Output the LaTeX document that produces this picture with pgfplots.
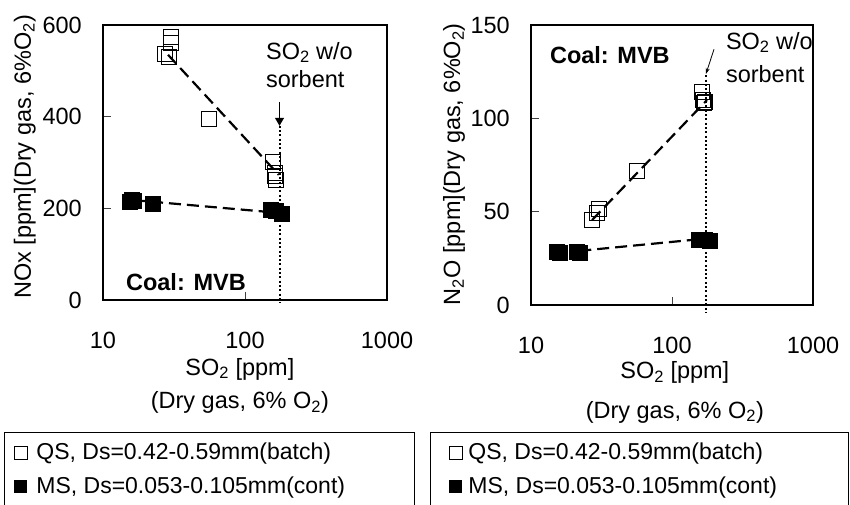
\documentclass[border=0pt]{standalone}
\usepackage{fontspec}
\setmainfont{Liberation Sans}
\usepackage{pgfplots}
\pgfplotsset{compat=1.18}
\usetikzlibrary{arrows.meta}
\newcommand\F{\fontsize{23.5}{28}\selectfont}
\newcommand\LF{\fontsize{23}{27}\selectfont}
\begin{document}
\F
\begin{tikzpicture}
\useasboundingbox (0,0) rectangle (850pt,505pt);
% ---------------- left: NOx
\begin{axis}[
  scale only axis, anchor=south west,
  at={(103pt,205pt)}, width=284pt, height=275pt,
  xmode=log, xmin=10, xmax=1000,
  xtick={10,100,1000}, xticklabels={10,100,1000}, xminorticks=false,
  tick align=inside, xtick pos=left, ytick pos=left,
  major tick length=8pt,
  major tick style={line width=0.8pt, black!75},
  axis line style={line width=1.8pt},
  tick label style={font=\F, inner sep=0pt},
  xticklabel style={anchor=north, yshift=-31.5pt},
  yticklabel style={anchor=east, xshift=-21pt},
  /pgf/number format/assume math mode=true,
  clip=false,
  ymin=0, ymax=600, ytick={0,200,400,600},
  ylabel={NOx [ppm](Dry gas, 6\%O\textsubscript{2})},
  ylabel style={font=\F, anchor=center, at={(axis description cs:-0.275,0.52)}},
  legend cell align=left,
  legend style={at={(axis description cs:-0.3486,-0.48)}, anchor=north west,
    draw=black, line width=0.8pt, font=\LF,
    inner xsep=9.5pt, inner ysep=8pt, row sep=10pt, column sep=7.5pt},
]
\addplot[black, line width=2pt, dash pattern=on 2pt off 2.3pt, forget plot] coordinates {(175,380) (175,-5)};
\addplot[black, line width=2.2pt, dash pattern=on 12pt off 6pt, forget plot] coordinates {(28.7,535) (173,273)};
\addplot[black, line width=2.2pt, dash pattern=on 12pt off 6pt, forget plot] coordinates {(16.3,218) (175,190)};
\addplot[only marks, mark=square, mark size=7.5pt, mark options={line width=0.8pt, black}, forget plot] coordinates {(29.9,573) (29.9,562) (27.1,536) (29.2,531) (56,396) (157.5,301) (161.4,278) (165,262) (163,270)};
\addplot[only marks, mark=square*, mark size=7.5pt, mark options={black, fill=black}, forget plot] coordinates {(15.3,215) (16,219) (16.5,216) (22.3,210) (151,197) (165,194) (181,188)};
\draw[black, line width=1pt, -{Triangle[width=9pt,length=8pt]}] (axis cs:175,432) -- (axis cs:175,380);
\node[font=\F, anchor=base west] at (axis description cs:0.546,0.876) {SO\textsubscript{2} w/o};
\node[font=\F, anchor=base west] at (axis description cs:0.546,0.771) {sorbent};
\node[font=\bfseries\F, anchor=base west] at (axis description cs:0.053,0.036) {Coal: MVB};
\node[font=\F, anchor=base] at (axis description cs:0.482,-0.273) {SO\textsubscript{2} [ppm]};
\node[font=\F, anchor=base] at (axis description cs:0.482,-0.396) {(Dry gas, 6\% O\textsubscript{2})};
\addlegendimage{only marks, mark=square, mark size=6.5pt, mark options={line width=0.6pt, black}}
\addlegendentry{\makebox[366.5pt][l]{QS, Ds=0.42-0.59mm(batch)}}
\addlegendimage{only marks, mark=square*, mark size=6pt, mark options={black, fill=black}}
\addlegendentry{\makebox[366.5pt][l]{MS, Ds=0.053-0.105mm(cont)}\rule[-20pt]{0pt}{1pt}}
\end{axis}
% ---------------- right: N2O
\begin{axis}[
  scale only axis, anchor=south west,
  at={(531pt,200pt)}, width=282pt, height=280pt,
  xmode=log, xmin=10, xmax=1000,
  xtick={10,100,1000}, xticklabels={10,100,1000}, xminorticks=false,
  tick align=inside, xtick pos=left, ytick pos=left,
  major tick length=8pt,
  major tick style={line width=0.8pt, black!75},
  axis line style={line width=1.8pt},
  tick label style={font=\F, inner sep=0pt},
  xticklabel style={anchor=north, yshift=-31.5pt},
  yticklabel style={anchor=east, xshift=-21pt},
  /pgf/number format/assume math mode=true,
  clip=false,
  ymin=0, ymax=150, ytick={0,50,100,150},
  ylabel={N\textsubscript{2}O [ppm](Dry gas, 6\%O\textsubscript{2})},
  ylabel style={font=\F, anchor=center, at={(axis description cs:-0.273,0.503)}},
  legend cell align=left,
  legend style={at={(axis description cs:-0.3582,-0.4536)}, anchor=north west,
    draw=black, line width=0.8pt, font=\LF,
    inner xsep=18.5pt, inner ysep=8pt, row sep=10pt, column sep=4.5pt},
]
\addplot[black, line width=2pt, dash pattern=on 2pt off 2.3pt, forget plot] coordinates {(174,123) (174,-3.75)};
\addplot[black, line width=2.2pt, dash pattern=on 12pt off 6pt, forget plot] coordinates {(27.1,45.5) (177,109.8)};
\addplot[black, line width=2.2pt, dash pattern=on 12pt off 6pt, forget plot] coordinates {(22,29) (170,35.5)};
\addplot[only marks, mark=square, mark size=7.5pt, mark options={line width=0.8pt, black}, forget plot] coordinates {(27.1,45.5) (29.4,49.3) (30.4,51.4) (56.5,71.8) (163,114) (165,110) (168,108) (170,109)};
\addplot[only marks, mark=square*, mark size=7.5pt, mark options={black, fill=black}, forget plot] coordinates {(15.3,28.4) (16,28) (21.2,28.4) (22.3,28.2) (155,35.2) (170,35) (185,34.6)};
\draw[black, line width=0.8pt, -{Stealth[length=6pt,width=4pt]}] (axis cs:198.6,137) -- (axis cs:174,123.75);
\node[font=\F, anchor=base west] at (axis description cs:0.663,0.914) {SO\textsubscript{2} w/o};
\node[font=\F, anchor=base west] at (axis description cs:0.663,0.796) {sorbent};
\node[font=\bfseries\F, anchor=base west] at (axis description cs:0.039,0.864) {Coal: MVB};
\node[font=\F, anchor=base] at (axis description cs:0.51,-0.264) {SO\textsubscript{2} [ppm]};
\node[font=\F, anchor=base] at (axis description cs:0.51,-0.404) {(Dry gas, 6\% O\textsubscript{2})};
\addlegendimage{only marks, mark=square, mark size=6.5pt, mark options={line width=0.6pt, black}}
\addlegendentry{\makebox[359.5pt][l]{QS, Ds=0.42-0.59mm(batch)}}
\addlegendimage{only marks, mark=square*, mark size=6pt, mark options={black, fill=black}}
\addlegendentry{\makebox[359.5pt][l]{MS, Ds=0.053-0.105mm(cont)}\rule[-20pt]{0pt}{1pt}}
\end{axis}
\end{tikzpicture}
\end{document}
